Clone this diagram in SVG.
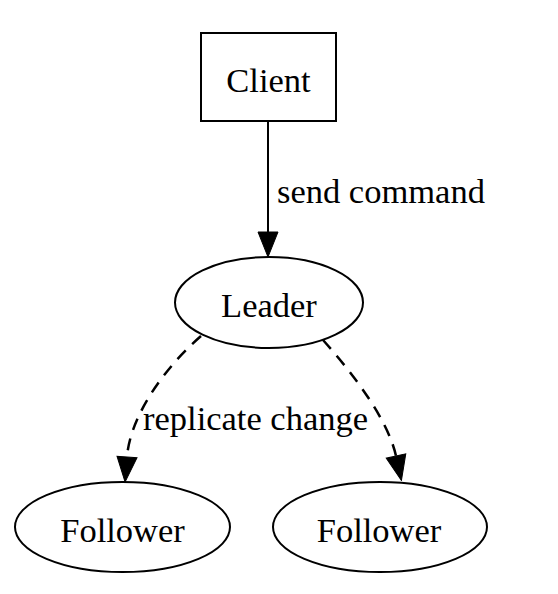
<svg xmlns="http://www.w3.org/2000/svg" width="558" height="594" viewBox="0 0 558 594">
<style>
.n{fill:#fff;stroke:#000;stroke-width:2}
.t{font-family:"Liberation Serif","Times New Roman",serif;font-size:34.5px;fill:#000;text-anchor:middle}
.l{font-family:"Liberation Serif","Times New Roman",serif;font-size:34.5px;fill:#000}
.e{fill:none;stroke:#000;stroke-width:2}
.d{stroke-width:2.5;stroke-dasharray:12,9}
</style>
<defs>
<marker id="a" markerUnits="userSpaceOnUse" markerWidth="27" markerHeight="22" refX="1" refY="11" orient="auto" viewBox="0 0 27 22">
<path d="M1,1 L26,11 L1,21 Z" fill="#000" stroke="#000" stroke-width="1" stroke-dasharray="none"/>
</marker>
</defs>
<rect width="558" height="594" fill="#fff"/>
<g id="edges">
<path class="e" d="M268,121 L268,232" marker-end="url(#a)"/>
<text class="l" x="277" y="203">send command</text>
<path class="e d" d="M201,336 C162,370 130,418 127,457" marker-end="url(#a)"/>
<path class="e d" d="M323,340 C355,376 388,420 396,456" marker-end="url(#a)"/>
<text class="l" x="143" y="430">replicate change</text>
</g>
<g id="client">
<rect class="n" x="201" y="33" width="135" height="88"/>
<text class="t" x="268.5" y="92">Client</text>
</g>
<g id="leader">
<ellipse class="n" cx="269" cy="302.5" rx="94" ry="45.5"/>
<text class="t" x="269" y="317">Leader</text>
</g>
<g id="follower1">
<ellipse class="n" cx="122.5" cy="527" rx="107.5" ry="45"/>
<text class="t" x="122.5" y="542">Follower</text>
</g>
<g id="follower2">
<ellipse class="n" cx="380" cy="527" rx="107" ry="45"/>
<text class="t" x="379" y="542">Follower</text>
</g>
</svg>
